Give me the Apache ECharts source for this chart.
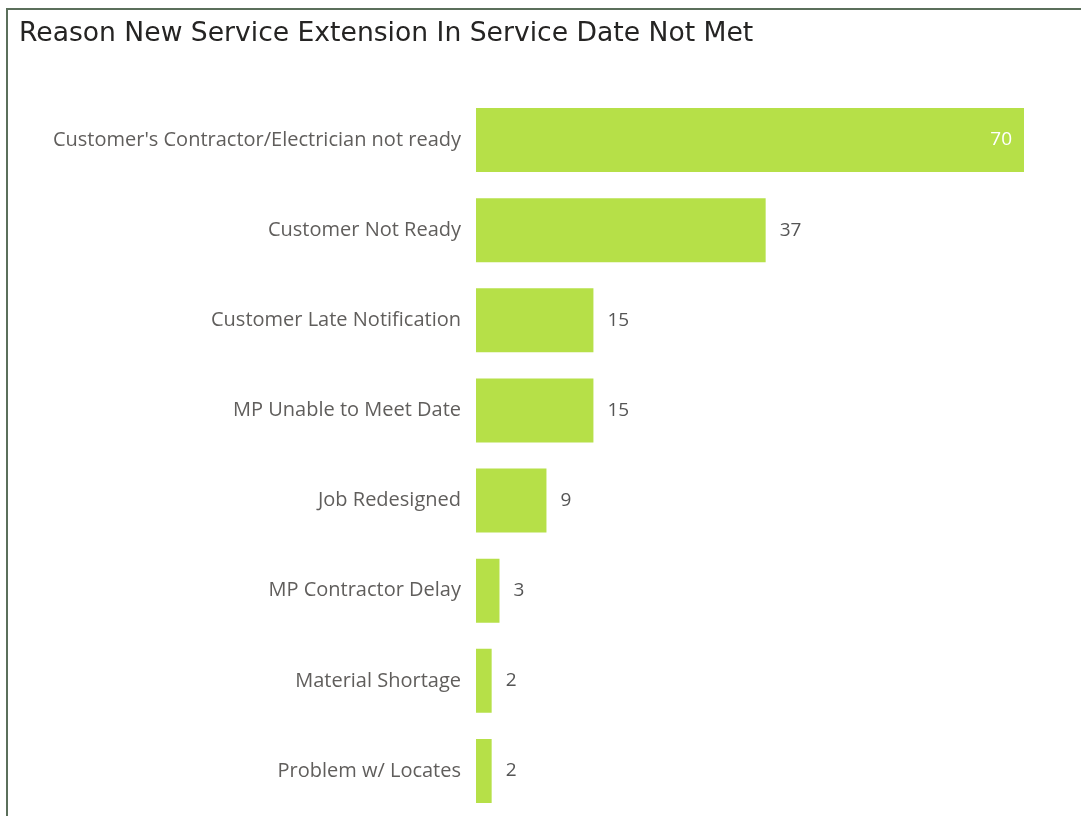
<!DOCTYPE html>
<html>
<head>
<meta charset="utf-8">
<script src="https://cdn.jsdelivr.net/npm/echarts@6/dist/echarts.min.js"></script>
<style>
html,body{margin:0;padding:0;background:#fff;overflow:hidden;width:1081px;height:816px;}
#frame{position:absolute;left:6px;top:8px;width:1100px;height:820px;border-left:2px solid #5b6f5b;border-top:2px solid #5b6f5b;}
#chart{position:absolute;left:0;top:0;width:1081px;height:816px;}
</style>
</head>
<body>
<div id="frame"></div>
<div id="chart"></div>
<script>
const titleText = 'Reason New Service Extension In Service Date Not Met';
const categories = [
  "Customer's Contractor/Electrician not ready",
  'Customer Not Ready',
  'Customer Late Notification',
  'MP Unable to Meet Date',
  'Job Redesigned',
  'MP Contractor Delay',
  'Material Shortage',
  'Problem w/ Locates'
];
const values = [70, 37, 15, 15, 9, 3, 2, 2];

const maxVal = Math.max(...values);
const chart = echarts.init(document.getElementById('chart'));
chart.setOption({
  animation: false,
  title: {
    text: titleText,
    left: 14,
    top: 16,
    textStyle: {fontFamily: 'DejaVu Sans', fontWeight: 'normal', fontSize: 26.6, color: '#252423'}
  },
  grid: {left: 476, top: 95, width: 548, height: 725, containLabel: false},
  xAxis: {type: 'value', min: 0, max: 70, show: false},
  yAxis: {
    type: 'category',
    data: categories,
    inverse: true,
    axisLine: {show: false},
    axisTick: {show: false},
    axisLabel: {fontFamily: 'Open Sans', fontSize: 20, color: '#605E5C', margin: 15, padding: [4, 0, 0, 0]}
  },
  series: [{
    type: 'bar',
    barCategoryGap: '29%',
    itemStyle: {color: '#B6E048'},
    data: values.map(v => ({
      value: v,
      label: v === maxVal
        ? {show: true, position: 'insideRight', color: '#ffffff', distance: 12}
        : {show: true, position: 'right', color: '#555555', distance: 14}
    })),
    label: {fontFamily: 'Open Sans', fontSize: 19, padding: [4, 0, 0, 0]}
  }]
});
</script>
</body>
</html>
